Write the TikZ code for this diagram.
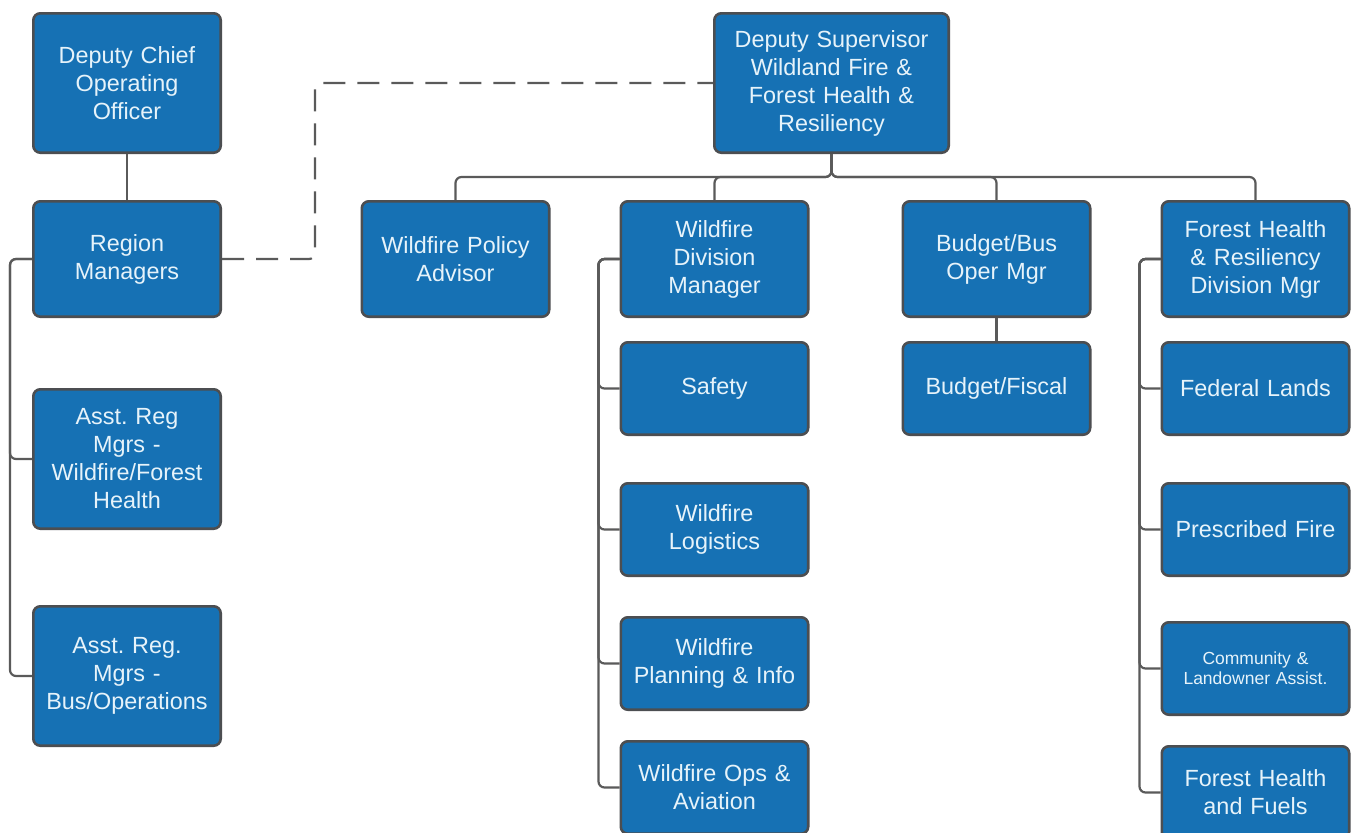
\documentclass[tikz,border=0pt]{standalone}
\usepackage{fontspec}
\setmainfont{Liberation Sans}
\frenchspacing
\usepackage{tikz}
\usetikzlibrary{positioning,calc}
\definecolor{oblue}{HTML}{1671B4}
\definecolor{oedge}{HTML}{4C4E51}
\definecolor{otext}{HTML}{E6F3FA}
\definecolor{oline}{HTML}{5A5A5A}
\tikzset{
 orgbox/.style={draw=oedge,fill=oblue,text=otext,line width=2.6pt,rounded corners=7pt,
   align=center,text width=177.4pt,inner sep=5pt,font=\fontsize{23.4}{28}\selectfont},
 tallbox/.style={orgbox,minimum height=139.4pt},
 midbox/.style={orgbox,minimum height=115.4pt},
 lowbox/.style={orgbox,minimum height=92.4pt},
 link/.style={draw=oline,line width=2.2pt,rounded corners=6pt},
 dashlink/.style={link,dash pattern=on 22pt off 12pt}
}

\begin{document}
\begin{tikzpicture}[x=1pt,y=-1pt]
 \useasboundingbox[fill=white] (0,0) rectangle (1353,833);
 % left column
 \node[tallbox] (chief) at (127,83) {Deputy Chief\\Operating\\Officer};
 \node[midbox,below=46pt of chief] (region) {Region\\Managers};
 \node[tallbox,below=70pt of region] (asstwf) {Asst. Reg\\Mgrs -\\Wildfire/Forest\\Health};
 \node[tallbox,below=75pt of asstwf] (asstbus) {Asst. Reg.\\Mgrs -\\Bus/Operations};
 % top of the right part
 \node[tallbox,text width=224.4pt] (deputy) at (831.5,83) {Deputy Supervisor\\Wildland Fire \&\\Forest Health \&\\Resiliency};
 \node[midbox] (policy) at (455.5,259) {Wildfire Policy\\Advisor};
 \node[midbox,right=69pt of policy] (wfdiv) {Wildfire\\Division\\Manager};
 \node[midbox,right=92pt of wfdiv] (budget) {Budget/Bus\\Oper Mgr};
 \node[midbox,right=69pt of budget] (fhdiv) {Forest Health\\\& Resiliency\\Division Mgr};
 % wildfire division
 \node[lowbox,below=23pt of wfdiv] (safety) {Safety};
 \node[lowbox,below=46pt of safety] (logist) {Wildfire\\Logistics};
 \node[lowbox,below=39pt of logist] (plan) {Wildfire\\Planning \& Info};
 \node[lowbox,below=29pt of plan] (ops) {Wildfire Ops \&\\Aviation};
 % budget
 \node[lowbox,below=23pt of budget] (fiscal) {Budget/Fiscal};
 % forest health division
 \node[lowbox,below=23pt of fhdiv] (federal) {Federal Lands};
 \node[lowbox,below=46pt of federal] (prescr) {Prescribed Fire};
 \node[lowbox,below=44pt of prescr,font=\fontsize{17.5}{20}\selectfont] (commun) {Community \&\\Landowner Assist.};
 \node[lowbox,below=29pt of commun] (fuels) {Forest Health\\and Fuels};

 \draw[link] (chief)--(region);
 \foreach \n in {asstwf,asstbus}
   \draw[link] (region.west) -- ++(-22,0) |- (\n.west);
 \draw[dashlink] (region.east) -- ++(93,0) |- (deputy.west);
 \foreach \n in {policy,wfdiv,budget,fhdiv}
   \draw[link] (deputy.south) -- ++(0,23) -| (\n.north);
 \foreach \n in {safety,logist,plan,ops}
   \draw[link] (wfdiv.west) -- ++(-21,0) |- (\n.west);
 \draw[link] (budget)--(fiscal);
 \foreach \n in {federal,prescr,commun,fuels}
   \draw[link] (fhdiv.west) -- ++(-21,0) |- (\n.west);
\end{tikzpicture}
\end{document}
